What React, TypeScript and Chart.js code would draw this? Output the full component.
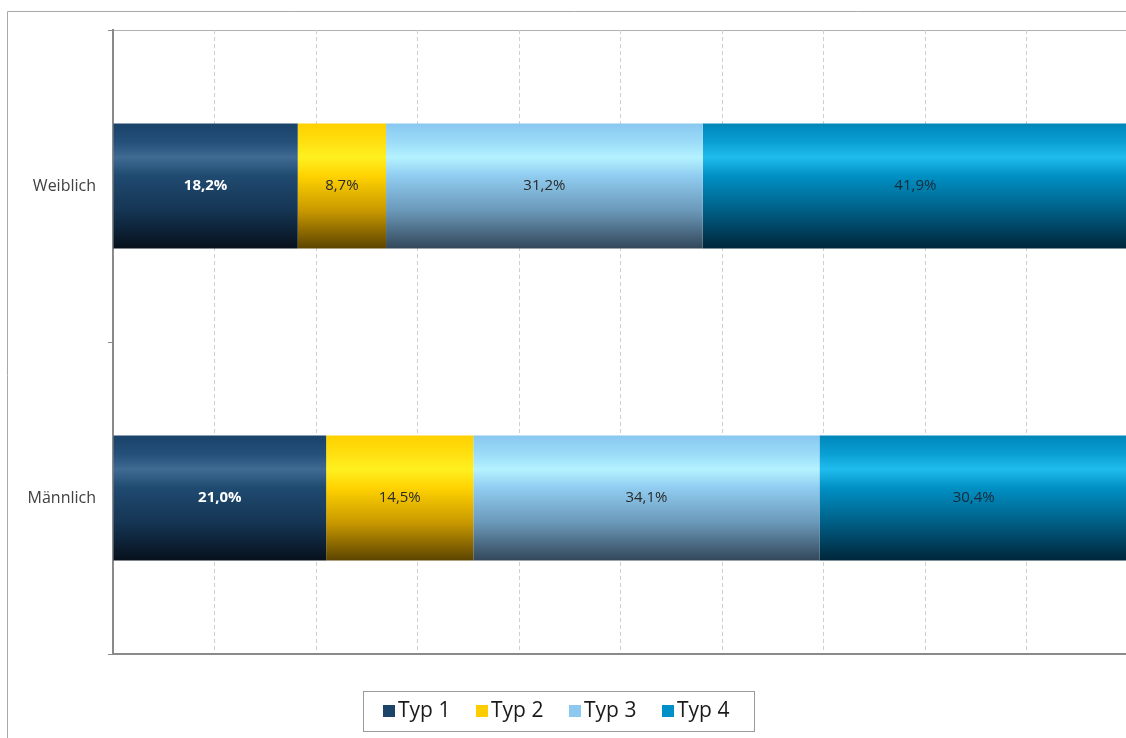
import React, { useEffect, useRef } from "react";
import { Chart, registerables } from "chart.js";

Chart.register(...registerables);

const categories = ["Weiblich", "Männlich"];
const seriesNames = ["Typ 1", "Typ 2", "Typ 3", "Typ 4"];
const typ1 = [18.2, 21.0];
const typ2 = [8.7, 14.5];
const typ3 = [31.2, 34.1];
const typ4 = [41.9, 30.4];
const xTicks = [0, 10, 20, 30, 40, 50, 60, 70, 80, 90, 100];

const solidColors = ["#1b4468", "#ffcc00", "#8cc8f0", "#0090c8"];
const gradStops: [number, string][][] = [
  [
    [0, "#1a426a"],
    [0.15, "#24507a"],
    [0.27, "#3f6a92"],
    [0.42, "#1f4a70"],
    [0.7, "#153553"],
    [1, "#06101c"],
  ],
  [
    [0, "#ffd000"],
    [0.15, "#ffe010"],
    [0.27, "#fff020"],
    [0.42, "#ffd200"],
    [0.7, "#c89800"],
    [1, "#5c4400"],
  ],
  [
    [0, "#88c8f0"],
    [0.15, "#9cdcf8"],
    [0.27, "#b4f2ff"],
    [0.42, "#90ccf0"],
    [0.7, "#6a98b8"],
    [1, "#33475a"],
  ],
  [
    [0, "#0086b8"],
    [0.15, "#0aa0d4"],
    [0.27, "#20bcee"],
    [0.42, "#0090c4"],
    [0.7, "#005e85"],
    [1, "#00263a"],
  ],
];
const labelColors = ["#ffffff", "#2a2a2a", "#2a2a2a", "#1a2a3a"];

const BAR_FRACTION = 0.4;

function makeGradient(sIdx: number) {
  return (ctx: any) => {
    const chart = ctx.chart;
    const ys = chart.scales && chart.scales.y;
    if (!ys || !chart.chartArea || ctx.dataIndex == null) return solidColors[sIdx];
    const c = ys.getPixelForValue(ctx.dataIndex);
    const half = (ys.height / chart.data.labels.length) * BAR_FRACTION / 2;
    if (!isFinite(c) || !isFinite(half)) return solidColors[sIdx];
    const g = chart.ctx.createLinearGradient(0, c - half, 0, c + half);
    gradStops[sIdx].forEach(([o, col]) => g.addColorStop(o, col));
    return g;
  };
}

const decorPlugin = {
  id: "decor",
  beforeDraw(chart: any) {
    const c = chart.ctx;
    c.save();
    c.fillStyle = "#ffffff";
    c.fillRect(0, 0, chart.width, chart.height);
    c.strokeStyle = "#a8a8a8";
    c.lineWidth = 1;
    c.beginPath();
    c.moveTo(7.5, chart.height + 5);
    c.lineTo(7.5, 11.5);
    c.lineTo(chart.width + 5, 11.5);
    c.stroke();
    const ca = chart.chartArea;
    c.strokeStyle = "#b0b0b0";
    c.beginPath();
    c.moveTo(ca.left, ca.top + 0.5);
    c.lineTo(ca.right, ca.top + 0.5);
    c.stroke();
    c.restore();
  },
  afterDatasetsDraw(chart: any) {
    const c = chart.ctx;
    c.save();
    c.textAlign = "center";
    c.textBaseline = "middle";
    chart.data.datasets.forEach((ds: any, i: number) => {
      const meta = chart.getDatasetMeta(i);
      meta.data.forEach((el: any, j: number) => {
        const v = ds.data[j];
        const x = (el.x + el.base) / 2;
        c.fillStyle = labelColors[i];
        c.font = (i === 0 ? "bold " : "") + "15px 'Open Sans', 'Noto Sans', sans-serif";
        c.fillText(v.toFixed(1).replace(".", ",") + "%", x, el.y);
      });
    });
    c.restore();
  },
  afterDraw(chart: any) {
    const c = chart.ctx;
    c.save();
    const bx = 363, by = 691, bw = 391, bh = 40;
    c.strokeStyle = "#9a9a9a";
    c.lineWidth = 1;
    c.strokeRect(bx + 0.5, by + 0.5, bw, bh);
    c.font = "21px 'Open Sans', 'Noto Sans', sans-serif";
    c.textBaseline = "middle";
    c.textAlign = "left";
    chart.data.datasets.forEach((ds: any, i: number) => {
      const x = 383 + i * 93;
      c.fillStyle = solidColors[i];
      c.fillRect(x, 705, 12, 12);
      c.fillStyle = "#1a1a1a";
      c.fillText(ds.label, x + 15, 711);
    });
    c.restore();
  },
};

export default function App() {
  const ref = useRef<HTMLCanvasElement | null>(null);
  useEffect(() => {
    if (!ref.current) return;
    const seriesData = [typ1, typ2, typ3, typ4];
    const chart = new Chart(ref.current, {
      type: "bar",
      data: {
        labels: categories,
        datasets: seriesNames.map((name, i) => ({
          label: name,
          data: seriesData[i],
          backgroundColor: makeGradient(i),
          borderWidth: 0,
          categoryPercentage: 0.8,
          barPercentage: 0.5,
        })),
      },
      options: {
        indexAxis: "y",
        responsive: false,
        animation: false,
        devicePixelRatio: 1,
        layout: { padding: { left: 0, top: 30, right: 12, bottom: 84 } },
        plugins: {
          legend: { display: false },
          tooltip: { enabled: false },
          title: { display: false },
        },
        scales: {
          x: {
            stacked: true,
            min: 0,
            max: 100,
            afterBuildTicks: (axis: any) => {
              axis.ticks = xTicks.map((v) => ({ value: v }));
            },
            ticks: { display: false },
            grid: {
              color: (ctx: any) => (ctx.tick && ctx.tick.value === 0 ? "rgba(0,0,0,0)" : "#cfcfcf"),
              drawTicks: false,
              lineWidth: 1,
            },
            border: { display: true, color: "#8a8a8a", width: 2, dash: [4, 3] },
            afterFit: (axis: any) => {
              axis.height = 0;
            },
          } as any,
          y: {
            stacked: true,
            ticks: {
              color: "#404040",
              font: { family: "'Open Sans', 'Noto Sans', sans-serif", size: 16 },
              padding: 12,
            },
            grid: {
              offset: true,
              drawOnChartArea: false,
              drawTicks: true,
              tickLength: 5,
              color: "#8a8a8a",
            },
            border: { display: true, color: "#8a8a8a", width: 2 },
            afterFit: (axis: any) => {
              axis.width = 113;
            },
          } as any,
        },
      },
      plugins: [decorPlugin],
    } as any);
    return () => chart.destroy();
  }, []);
  return (
    <div
      style={{
        position: "fixed",
        left: 0,
        top: 0,
        width: 1126,
        height: 738,
        overflow: "hidden",
        background: "#fff",
      }}
    >
      <canvas ref={ref} width={1140} height={738} style={{ display: "block" }} />
    </div>
  );
}
